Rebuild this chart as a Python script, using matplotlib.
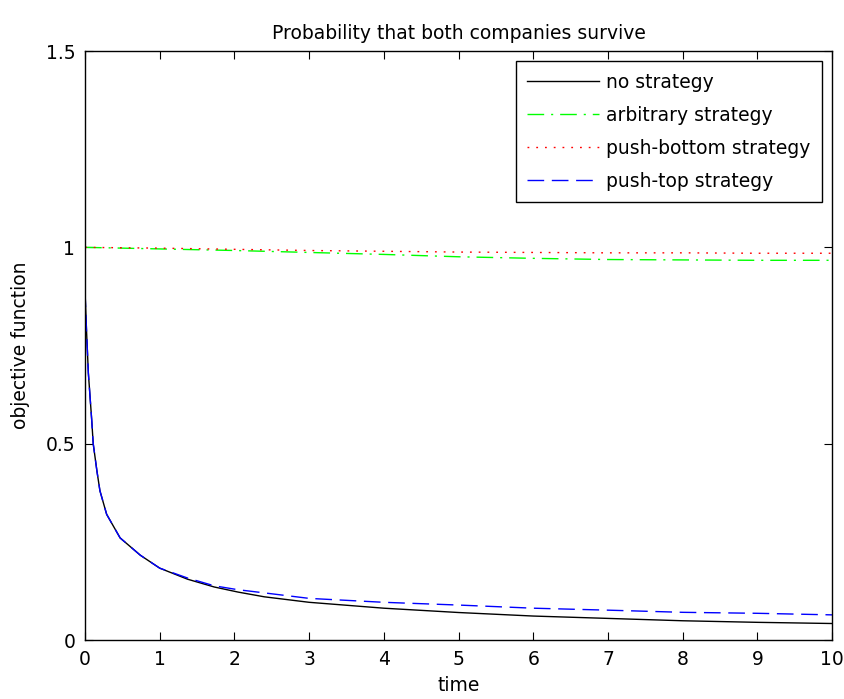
import matplotlib
matplotlib.use('Agg')
import matplotlib.pyplot as plt

# values
t_fast = [0, 0.02, 0.045, 0.09, 0.11, 0.16, 0.2, 0.29, 0.47, 0.74, 1.0, 1.37,
          1.73, 2.05, 2.4, 3, 4, 5, 6, 7, 8, 9, 10]
no_strategy = [0.89, 0.79, 0.68, 0.56, 0.50, 0.43, 0.38, 0.32, 0.26, 0.216, 0.183, 0.155,
               0.135, 0.122, 0.11, 0.096, 0.081, 0.07, 0.061, 0.055, 0.049, 0.045, 0.042]
push_top = [0.89, 0.79, 0.68, 0.56, 0.50, 0.43, 0.38, 0.32, 0.26, 0.216, 0.183, 0.158,
            0.138, 0.128, 0.12, 0.106, 0.096, 0.089, 0.081, 0.076, 0.0705, 0.068, 0.064]

t_slow = [0, 1, 2, 3, 4, 5, 6, 7, 8, 9, 10]
arbitrary = [1.0, 0.996, 0.992, 0.987, 0.982, 0.976, 0.972, 0.969, 0.968, 0.967, 0.967]
push_bottom = [1.0, 0.998, 0.995, 0.992, 0.99, 0.988, 0.987, 0.986, 0.986, 0.985, 0.985]

xticks = list(range(0, 11))
yticks = [0, 0.5, 1, 1.5]
ytick_labels = ['0', '0.5', '1', '1.5']

plt.rcParams['font.family'] = ['DejaVu Sans']
fs = 13.5

fig = plt.figure(figsize=(8.44, 6.99), dpi=100)
ax = fig.add_axes([0.1007, 0.0844, 0.8853, 0.8426])

lw = 1.0
ax.plot(t_fast, no_strategy, color='black', linewidth=lw, label='no strategy')
ax.plot(t_slow, arbitrary, color='#00ff00', linestyle='-.', linewidth=lw,
        dashes=(12, 5, 1.5, 5), label='arbitrary strategy')
ax.plot(t_slow, push_bottom, color='red', linestyle=':', linewidth=lw,
        dashes=(1.3, 5), label='push-bottom strategy')
ax.plot(t_fast, push_top, color='blue', linestyle='--', linewidth=lw,
        dashes=(12, 5.5), label='push-top strategy')

ax.set_xlim(0, 10)
ax.set_ylim(0, 1.5)
ax.set_xticks(xticks)
ax.set_yticks(yticks)
ax.set_yticklabels(ytick_labels)
ax.tick_params(direction='in', top=True, right=True, labelsize=fs, length=6, pad=7)
for s in ax.spines.values():
    s.set_linewidth(1.0)

ax.set_title('Probability that both companies survive', fontsize=fs, pad=9)
ax.set_xlabel('time', fontsize=fs, labelpad=5)
ax.set_ylabel('objective function', fontsize=fs, labelpad=11)

leg = ax.legend(loc='upper right', fontsize=fs, fancybox=False, framealpha=1,
                edgecolor='black', handlelength=3.8, borderaxespad=0.55,
                labelspacing=0.75, handletextpad=0.4, borderpad=0.6)
leg.get_frame().set_linewidth(1.0)

fig.savefig('out.png', dpi=100)
